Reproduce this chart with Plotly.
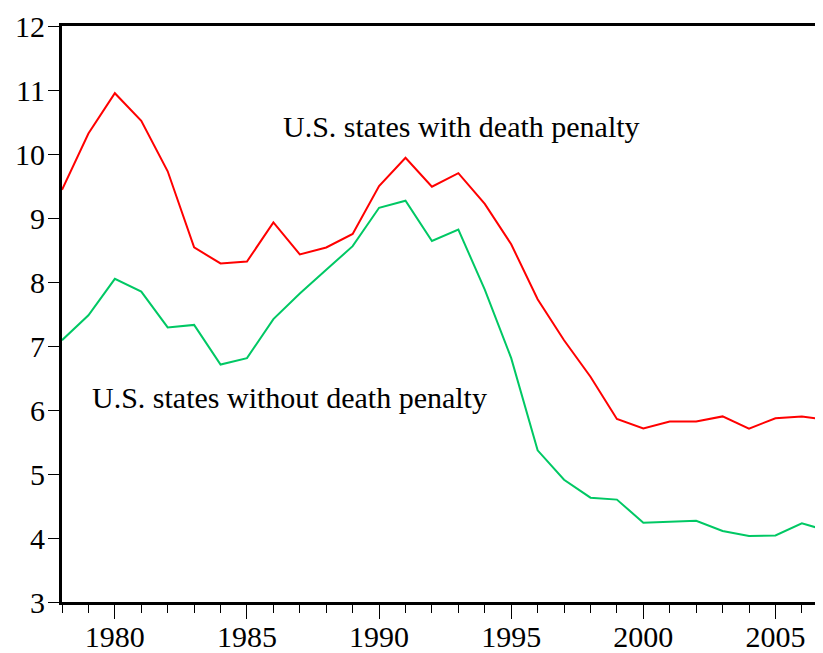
import plotly.graph_objects as go

years = list(range(1978, 2008))
with_penalty = [9.44, 10.32, 10.95, 10.52, 9.73, 8.54, 8.29, 8.32, 8.93, 8.43,
                8.54, 8.75, 9.50, 9.94, 9.49, 9.70, 9.22, 8.59, 7.73, 7.09,
                6.52, 5.86, 5.71, 5.82, 5.82, 5.90, 5.71, 5.87, 5.90, 5.84]
without_penalty = [7.09, 7.48, 8.05, 7.85, 7.29, 7.33, 6.71, 6.81, 7.42, 7.82,
                   8.19, 8.56, 9.16, 9.27, 8.64, 8.82, 7.88, 6.81, 5.37, 4.91,
                   4.63, 4.60, 4.24, 4.25, 4.27, 4.11, 4.03, 4.04, 4.23, 4.11]
label_with = "U.S. states with death penalty"
label_without = "U.S. states without death penalty"

FONT = "Liberation Serif"

fig = go.Figure()
fig.add_trace(go.Scatter(x=years, y=with_penalty, mode="lines",
                         line=dict(color="#FF0000", width=2), name=label_with))
fig.add_trace(go.Scatter(x=years, y=without_penalty, mode="lines",
                         line=dict(color="#00C864", width=2), name=label_without))

fig.add_annotation(x=1993.1, y=10.43, text=label_with, showarrow=False,
                   xref="x", yref="y", xanchor="center", yanchor="middle",
                   font=dict(family=FONT, size=30, color="black"))
fig.add_annotation(x=1986.6, y=6.20, text=label_without, showarrow=False,
                   xref="x", yref="y", xanchor="center", yanchor="middle",
                   font=dict(family=FONT, size=30, color="black"))

# the page body adds an 8px offset; margins compensate for it
fig.update_layout(
    width=815, height=645,
    margin=dict(l=54, r=0, t=18, b=51, autoexpand=False),
    paper_bgcolor="white", plot_bgcolor="white",
    showlegend=False,
    font=dict(family=FONT, size=30, color="black"),
)
fig.update_xaxes(
    automargin=False,
    range=[1978, 2006.8], showgrid=False, zeroline=False,
    showline=True, linecolor="black", linewidth=3, mirror=True,
    ticks="outside", ticklen=14, tickwidth=1, tickcolor="black",
    tick0=1980, dtick=5, ticklabelstandoff=-8,
    minor=dict(dtick=1, tick0=1978, ticks="outside", ticklen=8, tickwidth=1,
               tickcolor="black", showgrid=False),
    tickfont=dict(family=FONT, size=30, color="black"),
)
fig.update_yaxes(
    automargin=False,
    range=[3, 12], showgrid=False, zeroline=False,
    showline=True, linecolor="black", linewidth=3, mirror=False,
    ticks="outside", ticklen=11, tickwidth=1, tickcolor="black",
    tick0=3, dtick=1, ticklabelstandoff=-3,
    tickfont=dict(family=FONT, size=30, color="black"),
)

fig.write_html("out.html")
